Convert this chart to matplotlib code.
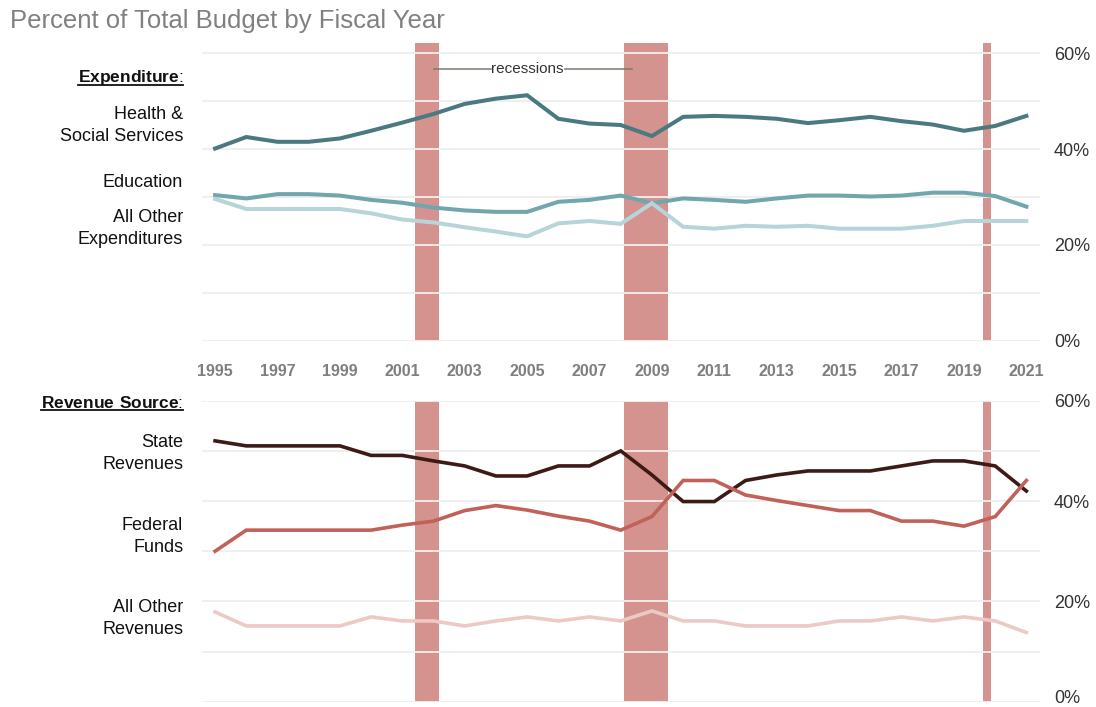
import numpy as np
import matplotlib
matplotlib.use("Agg")
import matplotlib.pyplot as plt
from matplotlib.transforms import ScaledTranslation

plt.rcParams['font.family'] = ['Liberation Sans', 'DejaVu Sans']
plt.rcParams['mathtext.fontset'] = 'custom'
plt.rcParams['mathtext.rm'] = 'Liberation Sans'
plt.rcParams['mathtext.bf'] = 'Liberation Sans:bold'

years = list(range(1995, 2022))

# expenditure shares (%)
health_social = [40.1, 42.5, 41.5, 41.5, 42.2, 43.8, 45.5, 47.3, 49.4, 50.5, 51.2, 46.3, 45.3, 45.0,
                 42.7, 46.7, 46.9, 46.7, 46.3, 45.4, 46.0, 46.7, 45.8, 45.1, 43.8, 44.8, 46.9]
education = [30.4, 29.7, 30.6, 30.6, 30.3, 29.4, 28.8, 27.8, 27.2, 26.9, 26.9, 29.0, 29.4, 30.3,
             28.7, 29.7, 29.4, 29.0, 29.7, 30.3, 30.3, 30.1, 30.3, 30.9, 30.9, 30.2, 28.0]
other_exp = [29.6, 27.5, 27.5, 27.5, 27.5, 26.6, 25.3, 24.7, 23.7, 22.8, 21.8, 24.5, 25.0, 24.4,
             28.7, 23.8, 23.4, 24.0, 23.8, 24.0, 23.4, 23.4, 23.4, 24.0, 25.0, 25.0, 25.0]

# revenue shares (%)
state_rev = [52.0, 51.0, 51.0, 51.0, 51.0, 49.1, 49.1, 48.0, 47.0, 45.0, 45.0, 47.0, 47.0, 50.0,
             45.2, 39.9, 39.9, 44.1, 45.2, 46.0, 46.0, 46.0, 47.0, 48.0, 48.0, 47.0, 42.0]
federal = [30.0, 34.2, 34.2, 34.2, 34.2, 34.2, 35.2, 36.0, 38.1, 39.1, 38.2, 37.0, 36.0, 34.2,
           36.9, 44.1, 44.1, 41.2, 40.1, 39.1, 38.1, 38.1, 36.0, 36.0, 35.0, 36.9, 44.1]
other_rev = [17.9, 15.1, 15.1, 15.1, 15.1, 16.9, 16.1, 16.1, 15.1, 16.1, 16.9, 16.1, 16.9, 16.1,
             18.1, 16.1, 16.1, 15.1, 15.1, 15.1, 16.1, 16.1, 16.9, 16.1, 16.9, 16.1, 13.8]

# recession periods on the fiscal year axis
recessions = [(2001.41, 2002.18), (2008.11, 2009.51), (2019.6, 2019.87)]

exp_series = [
    ("Health &\nSocial Services", health_social, "#4a7a80", 44.9),
    ("Education", education, "#72a6ad", 33.1),
    ("All Other\nExpenditures", other_exp, "#b7d4d8", 23.5),
]
rev_series = [
    ("State\nRevenues", state_rev, "#3e1a17", 49.4),
    ("Federal\nFunds", federal, "#c1625a", 33.0),
    ("All Other\nRevenues", other_rev, "#ecc9c4", 16.6),
]

fig = plt.figure(figsize=(10.96, 7.07), dpi=100)
ax_top = fig.add_axes([0.184, 0.5177, 0.765, 0.4219])
ax_bot = fig.add_axes([0.184, 0.0075, 0.765, 0.4257])

grid_vals = np.arange(0, 61, 10)


def style_panel(ax, ymax):
    ax.set_xlim(1994.57, 2021.44)
    ax.set_ylim(0, ymax)
    for s in ax.spines.values():
        s.set_visible(False)
    ax.hlines(grid_vals, 1994.57, 2021.44, color="#ebebeb", lw=1.1, zorder=0)
    for x0, x1 in recessions:
        ax.axvspan(x0, x1, color="#d4938e", lw=0, zorder=1)
        ax.hlines(grid_vals, x0, x1, color="white", lw=1.1, zorder=2)
    ax.yaxis.tick_right()
    ax.set_yticks([0, 20, 40, 60])
    ax.set_yticklabels(["0%", "20%", "40%", "60%"])
    ax.tick_params(axis="y", length=0, pad=10, labelsize=13, labelcolor="#333333")
    ax.tick_params(axis="x", length=0)


style_panel(ax_top, 62.15)
style_panel(ax_bot, 60)

# keep the lowest percent label inside the figure
zero_lbl = ax_bot.get_yticklabels()[0]
zero_lbl.set_transform(zero_lbl.get_transform() + ScaledTranslation(0, 4 / 72, fig.dpi_scale_trans))

ax_top.set_xticks(years[::2])
ax_top.set_xticklabels([str(y) for y in years[::2]])
ax_top.tick_params(axis="x", pad=16.5, labelsize=11.5, labelcolor="#7f7f7f")
for lbl in ax_top.get_xticklabels():
    lbl.set_fontweight("bold")
ax_bot.set_xticks([])

for name, vals, color, ylab in exp_series:
    ax_top.plot(years, vals, color=color, lw=2.9, solid_joinstyle="miter", zorder=3)
    ax_top.text(-0.022, ylab, name, transform=ax_top.get_yaxis_transform(),
                ha="right", va="center", fontsize=13, color="#111111", linespacing=1.38)

for name, vals, color, ylab in rev_series:
    ax_bot.plot(years, vals, color=color, lw=2.6, solid_joinstyle="miter", zorder=3)
    ax_bot.text(-0.022, ylab, name, transform=ax_bot.get_yaxis_transform(),
                ha="right", va="center", fontsize=13, color="#111111", linespacing=1.38)

# section headers: bold word plus regular colon, underlined
fig.canvas.draw()
for ax, word, yv in [(ax_top, r"$\bf{Expenditure}$:", 55.0),
                     (ax_bot, r"$\bf{Revenue\ Source}$:", 59.5)]:
    head = ax.text(-0.022, yv, word, transform=ax.get_yaxis_transform(),
                   ha="right", va="center", fontsize=12.5, color="#111111")
    wb = head.get_window_extent(renderer=fig.canvas.get_renderer())
    uy = wb.y0 + 1.5
    fig.add_artist(plt.Line2D([wb.x0, wb.x1], [uy, uy], transform=None,
                              color="#111111", lw=1.3))

# recessions callout
ax_top.plot([2002.0, 2003.85], [56.7, 56.7], color="#7a7a72", lw=1.1, zorder=4)
ax_top.plot([2006.2, 2008.37], [56.7, 56.7], color="#7a7a72", lw=1.1, zorder=4)
ax_top.text(2005.0, 56.7, "recessions", ha="center", va="center", fontsize=11,
            color="#333333", zorder=4)

fig.text(0.009, 0.971, "Percent of Total Budget by Fiscal Year", ha="left", va="center",
         fontsize=18.5, color="#808080")

fig.savefig("out.png", dpi=100)
